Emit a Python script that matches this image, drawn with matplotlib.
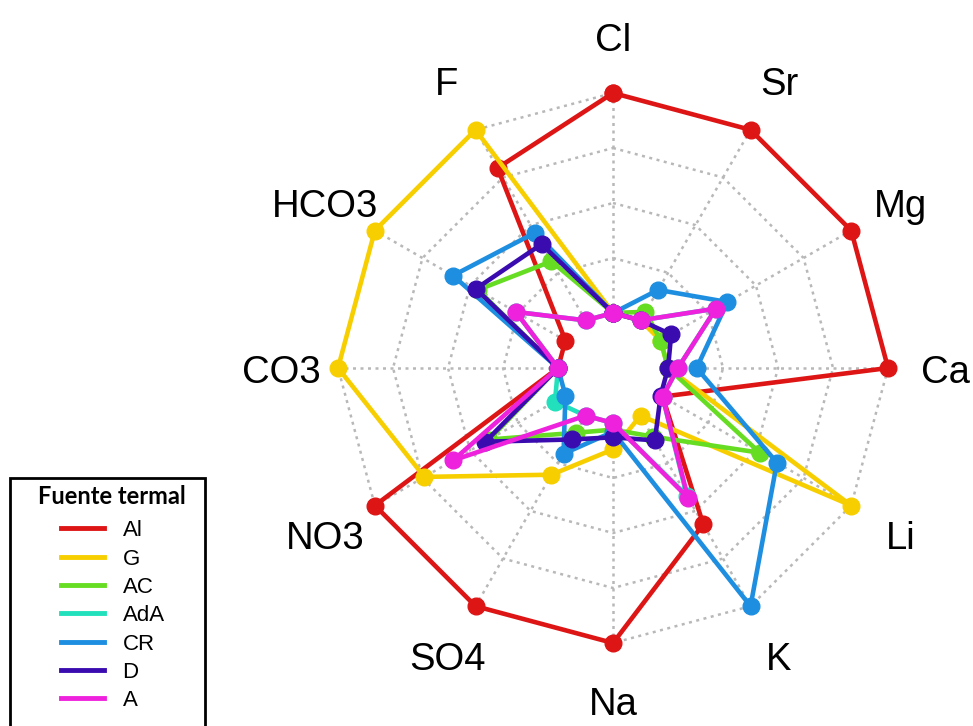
import numpy as np
import matplotlib.pyplot as plt
from matplotlib.lines import Line2D
from matplotlib.patches import Rectangle
from matplotlib.transforms import ScaledTranslation

plt.rcParams['font.family'] = ['Liberation Sans', 'DejaVu Sans']

variables = ['Cl', 'Sr', 'Mg', 'Ca', 'Li', 'K', 'Na', 'SO4', 'NO3', 'CO3', 'HCO3', 'F']
fuentes = ['Al', 'G', 'AC', 'AdA', 'CR', 'D', 'A']

# valores escalados 0-1
al  = [1.00, 1.00, 1.00, 1.00, 0.01, 0.57, 1.00, 1.00, 1.00, 0.00, 0.00, 0.80]
g   = [0.00, 0.00, 0.00, 0.00, 1.00, 0.00, 0.12, 0.31, 0.74, 1.00, 1.00, 1.00]
ac  = [0.00, 0.045, 0.00, 0.00, 0.52, 0.11, 0.03, 0.09, 0.40, 0.00, 0.46, 0.31]
ada = [0.00, 0.00, 0.29, 0.045, 0.01, 0.42, 0.00, 0.00, 0.055, 0.00, 0.26, 0.00]
cr  = [0.00, 0.16, 0.35, 0.13, 0.61, 1.00, 0.04, 0.20, 0.00, 0.00, 0.59, 0.46]
d   = [0.00, 0.00, 0.055, 0.00, 0.00, 0.13, 0.065, 0.125, 0.42, 0.00, 0.47, 0.40]
a   = [0.00, 0.00, 0.29, 0.045, 0.01, 0.43, 0.00, 0.00, 0.59, 0.00, 0.26, 0.00]

series = [al, g, ac, ada, cr, d, a]
colores = ['#dd1515', '#f7cf00', '#66dd22', '#22e0bb', '#1e8fe0', '#3a0cb0', '#ee22dd']

n = len(variables)
theta = np.deg2rad(np.arange(n) * 360.0 / n)
theta_c = np.append(theta, theta[0])

fig = plt.figure(figsize=(9.73, 7.26), dpi=100)
ax = fig.add_axes([0.3474, 0.1143, 0.5653, 0.7576], projection='polar')
ax.set_theta_zero_location('N')
ax.set_theta_direction(-1)
ax.set_ylim(0, 1)
ax.set_rorigin(-0.25)
ax.axis('off')

# rejilla punteada
for lev in [0.25, 0.5, 0.75, 1.0]:
    ax.plot(theta_c, [lev] * (n + 1), color='#b8b8b8', lw=1.8,
            dashes=(1.2, 1.8), zorder=1, clip_on=False)
for t in theta:
    ax.plot([t, t], [0, 1], color='#b8b8b8', lw=1.8, dashes=(1.2, 1.8),
            zorder=1, clip_on=False)

for i, (vals, col) in enumerate(zip(series, colores)):
    v = np.append(vals, vals[0])
    ax.plot(theta_c, v, color=col, lw=3.3, marker='o', ms=12,
            zorder=3 + i, clip_on=False)

off = ax.transData + ScaledTranslation(0, -0.045, fig.dpi_scale_trans)
for t, name in zip(theta, variables):
    ax.text(t, 1.259, name, ha='center', va='center', fontsize=27.5,
            transform=off)

# leyenda
fig.text(111.5 / 973, 1 - 497 / 726, 'Fuente termal', ha='center', va='center',
         fontsize=17, fontweight='bold', family='Lato')
handles = [Line2D([], [], color=c, lw=3.5) for c in colores]
leg = fig.legend(handles, fuentes, loc='upper center',
                 bbox_to_anchor=(113 / 973, 1 - 518 / 726),
                 fontsize=16, frameon=False, handlelength=1.9,
                 handletextpad=0.85, labelspacing=0.33, borderpad=0.1,
                 borderaxespad=0)
fig.patches.append(Rectangle((10 / 973, -0.05), 195 / 973, (726 - 478) / 726 + 0.05,
                             transform=fig.transFigure, fill=False,
                             ec='black', lw=2))

fig.savefig('out.png', dpi=100, facecolor='white')
